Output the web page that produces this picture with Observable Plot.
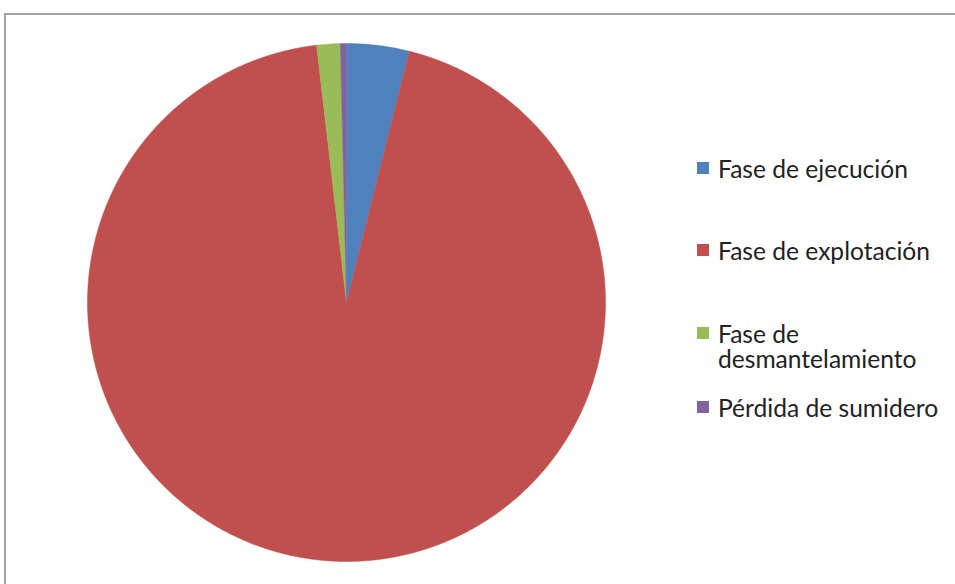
<!DOCTYPE html>
<html>
<head>
<meta charset="utf-8">
<script src="https://cdn.jsdelivr.net/npm/d3@7"></script>
<script src="https://cdn.jsdelivr.net/npm/@observablehq/plot@0.6"></script>
<style>
  html, body { margin: 0; padding: 0; background: #fff; }
  #wrap { position: relative; width: 955px; height: 584px; overflow: hidden; background: #fff; }
  #frame { position: absolute; left: 4px; top: 13px; width: 1000px; height: 700px; border-left: 2px solid #a3a3a3; border-top: 2px solid #a3a3a3; box-sizing: border-box; }
  #chart { position: absolute; left: 0; top: 0; }
  #legend { position: absolute; left: 0; top: 0; font-family: Lato, "Open Sans", sans-serif; color: #222; }
  .item { position: absolute; left: 697px; display: flex; align-items: flex-start; }
  .sw { width: 12px; height: 12px; margin-right: 9px; flex: none; }
  .lbl { line-height: 25px; white-space: pre; }
</style>
</head>
<body>
<div id="wrap">
  <div id="frame"></div>
  <div id="chart"></div>
  <div id="legend"></div>
</div>
<script>
const categories = ["Fase de ejecución", "Fase de explotación", "Fase de desmantelamiento", "Pérdida de sumidero"];
const legendLabels = ["Fase de ejecución", "Fase de explotación", "Fase de\ndesmantelamiento", "Pérdida de sumidero"];
const values = [3.9, 94.26, 1.46, 0.38];
const colors = ["#4F81BD", "#C0504D", "#9BBB59", "#8064A2"];

// Build pie slice polygons (clockwise from 12 o'clock) in unit-circle coordinates
const total = d3.sum(values);
let acc = 0;
const slices = categories.map((cat, i) => {
  const a0 = acc / total * 2 * Math.PI;
  acc += values[i];
  const a1 = acc / total * 2 * Math.PI;
  const n = Math.max(2, Math.ceil((a1 - a0) / (Math.PI / 720)));
  const ring = [[0, 0]];
  for (let k = 0; k <= n; k++) {
    const t = a0 + (a1 - a0) * k / n;
    ring.push([Math.sin(t), Math.cos(t)]);
  }
  ring.push([0, 0]);
  return {type: "Feature", properties: {cat}, geometry: {type: "Polygon", coordinates: [ring]}};
});

const chart = Plot.plot({
  width: 955,
  height: 584,
  marginLeft: 87,
  marginRight: 350,
  marginTop: 43,
  marginBottom: 23,
  projection: {type: "reflect-y", domain: {type: "MultiPoint", coordinates: [[-1, -1], [1, 1]]}},
  color: {domain: categories, range: colors},
  marks: [
    Plot.geo(slices, {fill: d => d.properties.cat, stroke: d => d.properties.cat, strokeWidth: 0.5})
  ]
});
document.getElementById("chart").appendChild(chart);

// Legend
const ctx = document.createElement("canvas").getContext("2d");
ctx.font = "20px Lato";
const w = ctx.measureText("Fase de explotación").width;
const fs = 20 * 212 / w;
const legend = document.getElementById("legend");
legend.style.fontSize = fs + "px";
const centersY = [168, 250, 333, 407];
categories.forEach((cat, i) => {
  const item = document.createElement("div");
  item.className = "item";
  item.style.top = (centersY[i] - 12.5) + "px";
  const sw = document.createElement("div");
  sw.className = "sw";
  sw.style.background = colors[i];
  sw.style.marginTop = "6.5px";
  const lbl = document.createElement("div");
  lbl.className = "lbl";
  lbl.textContent = legendLabels[i];
  item.appendChild(sw);
  item.appendChild(lbl);
  legend.appendChild(item);
});
</script>
</body>
</html>
